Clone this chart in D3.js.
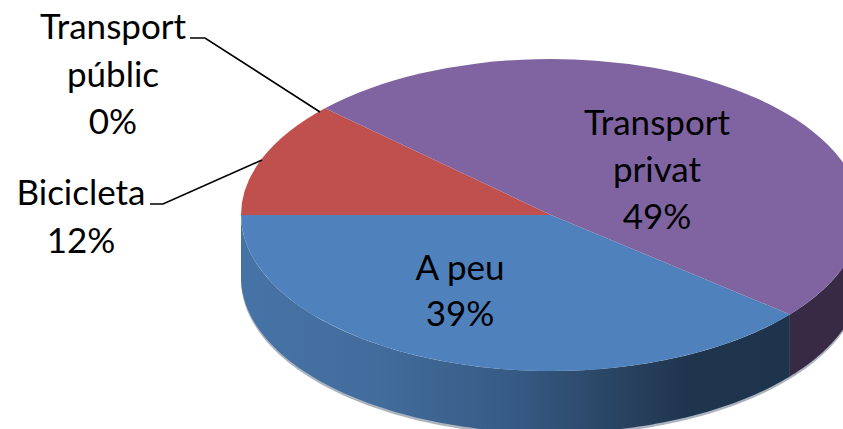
<!DOCTYPE html>
<html><head><meta charset="utf-8">
<script src="https://cdn.jsdelivr.net/npm/d3@7"></script>
<style>html,body{margin:0;padding:0;background:#fff;overflow:hidden}svg{display:block}text{font-family:Lato,"Open Sans",sans-serif;font-size:35px;fill:#000;text-anchor:middle}</style>
</head><body><svg id="c" width="843" height="429"></svg>
<script>
const categories = ["A peu","Bicicleta","Transport públic","Transport privat"];
const values = [39,12,0,49];
const colors = ["#4f81bd","#c0504d","#9bbb59","#8064a2"];
const wallColors = ["url(#blueWall)","#8a3a38","#6f8640","#382a44"];
const labelLines = [["A peu","39%"],["Bicicleta","12%"],["Transport","públic","0%"],["Transport","privat","49%"]];
const labelCenters = [[460,280],[81,205],[113,39],[657,135]];
const lineSpacing = [46,48,47.5,47];
const leaders = [null,[[150,204],[163,204],[262,160]],[[190,38],[205,38],[320,112]],null];
const startDeg = 129.6;

const cx=551, cy=215, rx=310, ry=156, depth=62;
const svg=d3.select("#c");
const rad=d=>d*Math.PI/180;
const defs=svg.append("defs");
const g=defs.append("linearGradient").attr("id","blueWall").attr("gradientUnits","userSpaceOnUse")
  .attr("x1",241).attr("x2",790).attr("y1",0).attr("y2",0);
[[0,"#4673a6"],[0.25,"#426c9c"],[0.5,"#365a84"],[0.7,"#28425f"],[0.82,"#1f344d"],[1,"#1e334c"]]
  .forEach(s=>g.append("stop").attr("offset",s[0]).attr("stop-color",s[1]));

const pie=d3.pie().sort(null).startAngle(rad(startDeg)).endAngle(rad(startDeg+360)).value(d=>d);
const slices=pie(values);

const wall=(pad)=>d3.area().x(a=>cx+rx*Math.sin(a))
  .y0(a=>cy-ry*Math.cos(a)).y1(a=>cy-ry*Math.cos(a)+depth+pad);
const clampFront=(s)=>{
  const out=[];
  [[rad(90),rad(270)],[rad(450),rad(630)]].forEach(([lo,hi])=>{
    const a=Math.max(s.startAngle,lo), b=Math.min(s.endAngle,hi);
    if(b>a) out.push([a,b]);
  });
  return out;
};
const samples=([a,b])=>d3.range(0,121).map(i=>a+(b-a)*i/120);

// soft pale rim under the wall
slices.forEach((s,i)=>clampFront(s).forEach(r=>{
  svg.append("path").attr("d",wall(2.5)(samples(r))).attr("fill","#8f9aa8").attr("opacity",0.75);
}));
// walls
slices.forEach((s,i)=>clampFront(s).forEach(r=>{
  svg.append("path").attr("d",wall(0)(samples(r))).attr("fill",wallColors[i]);
}));
// top face
const arc=d3.arc().innerRadius(0).outerRadius(rx);
svg.append("g").attr("transform",`translate(${cx},${cy}) scale(1,${ry/rx})`)
  .selectAll("path").data(slices).join("path")
  .attr("d",arc).attr("fill",(d,i)=>colors[i]);

// leaders
const line=d3.line();
leaders.forEach(l=>{ if(l) svg.append("path").attr("d",line(l)).attr("fill","none").attr("stroke","#000").attr("stroke-width",1.6); });

// labels
labelLines.forEach((ls,i)=>{
  ls.forEach((t,j)=>svg.append("text").attr("x",labelCenters[i][0]).attr("y",labelCenters[i][1]+j*lineSpacing[i]).text(t));
});
</script></body></html>
